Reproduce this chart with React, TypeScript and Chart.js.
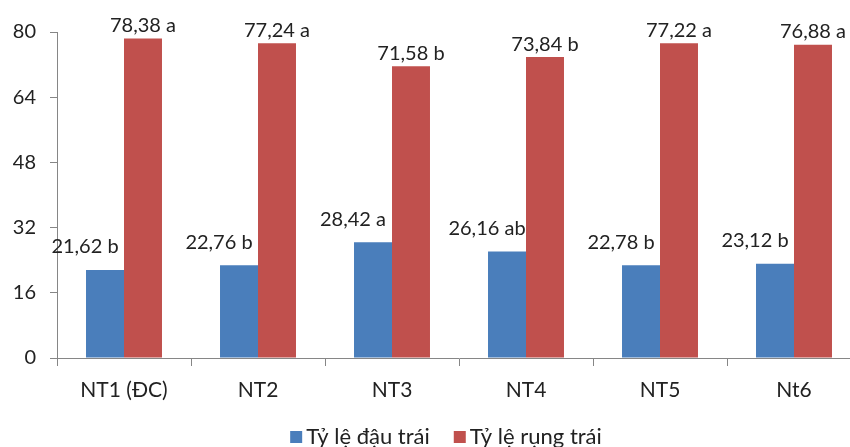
import React, { useEffect, useRef } from "react";
import { Chart, registerables } from "chart.js";

Chart.register(...registerables);

const categories = ["NT1 (ĐC)", "NT2", "NT3", "NT4", "NT5", "Nt6"];
const seriesNames = ["Tỷ lệ đậu trái", "Tỷ lệ rụng trái"];
const seriesColors = ["#4a7ebb", "#c0504d"];
const fruitSet = [21.62, 22.76, 28.42, 26.16, 22.78, 23.12];
const fruitSetLetters = ["b", "b", "a", "ab", "b", "b"];
const fruitDrop = [78.38, 77.24, 71.58, 73.84, 77.22, 76.88];
const fruitDropLetters = ["a", "a", "b", "b", "a", "a"];
const yTicks = [0, 16, 32, 48, 64, 80];

const FONT = "Lato, 'Open Sans', sans-serif";
const TEXT = "#222222";

const fmt = (v: number) => v.toFixed(2).replace(".", ",");

const labelPlugin = {
  id: "barLabels",
  afterDatasetsDraw(chart: any) {
    const ctx = chart.ctx;
    ctx.save();
    ctx.font = `20px ${FONT}`;
    ctx.fillStyle = TEXT;
    ctx.textBaseline = "bottom";
    ctx.textAlign = "center";
    chart.data.datasets.forEach((ds: any, di: number) => {
      const meta = chart.getDatasetMeta(di);
      meta.data.forEach((bar: any, i: number) => {
        const letters = di === 0 ? fruitSetLetters : fruitDropLetters;
        const text = `${fmt(ds.data[i])} ${letters[i]}`;
        if (di === 0) {
          ctx.fillText(text, bar.x - 20, bar.y - 13);
        } else {
          ctx.fillText(text, bar.x, bar.y - 3);
        }
      });
    });
    ctx.restore();
  },
};

const legendPlugin = {
  id: "bottomLegend",
  afterDraw(chart: any) {
    const ctx = chart.ctx;
    ctx.save();
    ctx.font = `22px ${FONT}`;
    ctx.textBaseline = "middle";
    ctx.textAlign = "left";
    const box = 12;
    const gapBoxText = 4;
    const gapItems = 24;
    const widths = seriesNames.map((n) => ctx.measureText(n).width);
    const total =
      widths.reduce((a, w) => a + box + gapBoxText + w, 0) +
      gapItems * (seriesNames.length - 1);
    const cy = 437;
    let x = 446 - total / 2;
    seriesNames.forEach((name, i) => {
      ctx.fillStyle = seriesColors[i];
      ctx.fillRect(x, cy - box / 2, box, box);
      x += box + gapBoxText;
      ctx.fillStyle = TEXT;
      ctx.fillText(name, x, cy);
      x += widths[i] + gapItems;
    });
    ctx.restore();
  },
};

export default function App() {
  const ref = useRef<HTMLCanvasElement | null>(null);
  useEffect(() => {
    if (!ref.current) return;
    const chart = new Chart(ref.current, {
      type: "bar",
      data: {
        labels: categories,
        datasets: [
          {
            label: seriesNames[0],
            data: fruitSet,
            backgroundColor: seriesColors[0],
            categoryPercentage: 0.567,
            barPercentage: 1,
          },
          {
            label: seriesNames[1],
            data: fruitDrop,
            backgroundColor: seriesColors[1],
            categoryPercentage: 0.567,
            barPercentage: 1,
          },
        ],
      },
      options: {
        animation: false,
        responsive: false,
        devicePixelRatio: 1,
        layout: { padding: { left: 4, right: 0, top: 32, bottom: 30 } },
        plugins: {
          legend: { display: false },
          tooltip: { enabled: false },
        },
        scales: {
          x: {
            grid: {
              display: true,
              drawOnChartArea: false,
              drawTicks: true,
              tickLength: 8,
              color: "#868686",
              offset: true,
            },
            border: { display: true, color: "#868686", width: 1 },
            ticks: {
              color: TEXT,
              padding: 12,
              font: { family: FONT, size: 21 },
            },
            afterFit: (s: any) => {
              s.height = 59;
            },
          },
          y: {
            min: 0,
            max: 80,
            afterBuildTicks: (s: any) => {
              s.ticks = yTicks.map((v) => ({ value: v }));
            },
            grid: {
              display: true,
              drawOnChartArea: false,
              drawTicks: true,
              tickLength: 7,
              color: "#868686",
            },
            border: { display: true, color: "#868686", width: 1 },
            ticks: {
              color: TEXT,
              padding: 14,
              font: { family: FONT, size: 20 },
            },
            afterFit: (s: any) => {
              s.width = 53;
            },
          },
        },
      },
      plugins: [labelPlugin, legendPlugin],
    });
    return () => chart.destroy();
  }, []);
  return (
    <div
      style={{
        position: "absolute",
        left: 0,
        top: 0,
        width: 850,
        height: 447,
        overflow: "hidden",
        background: "#fff",
      }}
    >
      <canvas ref={ref} width={861} height={447} style={{ display: "block" }} />
    </div>
  );
}
